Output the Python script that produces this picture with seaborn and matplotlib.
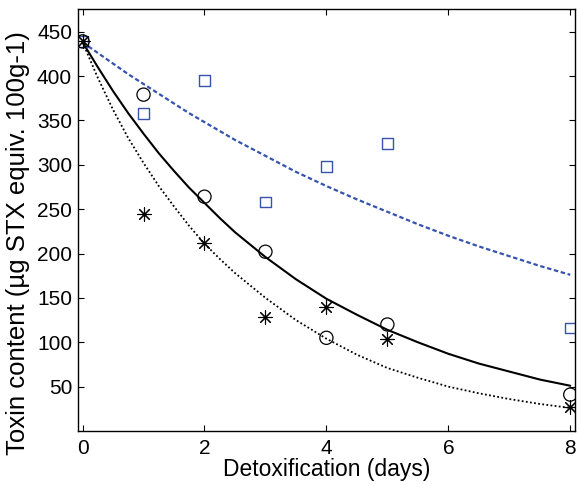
import numpy as np
import pandas as pd
import seaborn as sns
import matplotlib.pyplot as plt

# measured toxin content per detoxification day
days = [0, 1, 2, 3, 4, 5, 8]
toxin_squares = [439, 358, 395, 258, 298, 324, 116]
toxin_circles = [439, 379, 264, 202, 105, 120, 41]
toxin_stars = [439, 244, 212, 128, 140, 104, 27]

# fitted decay curves
fit_days = [0, 0.25, 0.5, 0.75, 1, 1.25, 1.5, 1.75, 2, 2.25, 2.5, 2.75, 3,
            3.5, 4, 4.5, 5, 5.5, 6, 6.5, 7, 7.5, 8]
fit_dashed = [438, 426, 414, 402, 391, 380, 369, 358, 348, 338, 328, 319, 310,
              292, 276, 261, 247, 233, 220, 208, 197, 186, 176]
fit_solid = [438, 410, 383, 358, 335, 313, 293, 274, 257, 240, 224, 210, 196,
             171, 149, 131, 114, 100, 87, 76, 67, 58, 51]
fit_dotted = [438, 398, 362, 330, 302, 276, 253, 231, 211, 194, 178, 164, 150,
              125, 104, 86, 71, 60, 50, 42.5, 36, 30.5, 26]

x_ticks = [0, 2, 4, 6, 8]
y_ticks = [50, 100, 150, 200, 250, 300, 350, 400, 450]

blue = '#3654ad'

sns.set_style('ticks')
plt.rcParams['font.family'] = ['Liberation Sans', 'DejaVu Sans']
plt.rcParams.update({'text.color': 'black', 'axes.labelcolor': 'black',
                     'xtick.color': 'black', 'ytick.color': 'black',
                     'axes.edgecolor': 'black'})

fig = plt.figure(figsize=(5.77, 4.84), dpi=100)
ax = fig.add_axes([0.1357, 0.1095, 0.86, 0.871])

fits = pd.DataFrame({'day': fit_days, 'dashed': fit_dashed,
                     'solid': fit_solid, 'dotted': fit_dotted})

sns.lineplot(data=fits, x='day', y='dashed', ax=ax, color=blue, lw=1.6,
             linestyle=(0, (2.0, 1.2)))
sns.lineplot(data=fits, x='day', y='solid', ax=ax, color='black', lw=1.5)
sns.lineplot(data=fits, x='day', y='dotted', ax=ax, color='black', lw=1.3,
             linestyle=(0, (1, 1.3)))

pts = pd.DataFrame({'day': days, 'sq': toxin_squares,
                    'ci': toxin_circles, 'st': toxin_stars})

sns.scatterplot(data=pts, x='day', y='sq', ax=ax, marker='s', s=60,
                facecolor='none', edgecolor=blue, linewidth=1.0, zorder=5)
sns.scatterplot(data=pts, x='day', y='ci', ax=ax, marker='o', s=90,
                facecolor='none', edgecolor='black', linewidth=0.9, zorder=5)
sns.scatterplot(data=pts, x='day', y='st', ax=ax, marker=(8, 2, 0), s=95,
                color='black', edgecolor='black', linewidth=0.8, zorder=5)

ax.set_xlim(-0.07, 8.07)
ax.set_ylim(0, 475)
ax.set_xticks(x_ticks)
ax.set_yticks(y_ticks)
ax.tick_params(direction='in', length=4, width=0.8, labelsize=15,
               top=True, right=True, colors='black')
ax.tick_params(axis='x', pad=5.5)
ax.tick_params(axis='y', pad=4.5)
for sp in ax.spines.values():
    sp.set_linewidth(1.0)
    sp.set_color('black')
    sp.set_visible(True)

ax.set_xlabel('Detoxification (days)', fontsize=16.5, color='black')
ax.set_ylabel('Toxin content (µg STX equiv. 100g-1)', fontsize=18.5, color='black')
ax.xaxis.set_label_coords(0.5, -0.063)
ax.yaxis.set_label_coords(-0.097, 0.445)

fig.savefig('out.png', dpi=100)
